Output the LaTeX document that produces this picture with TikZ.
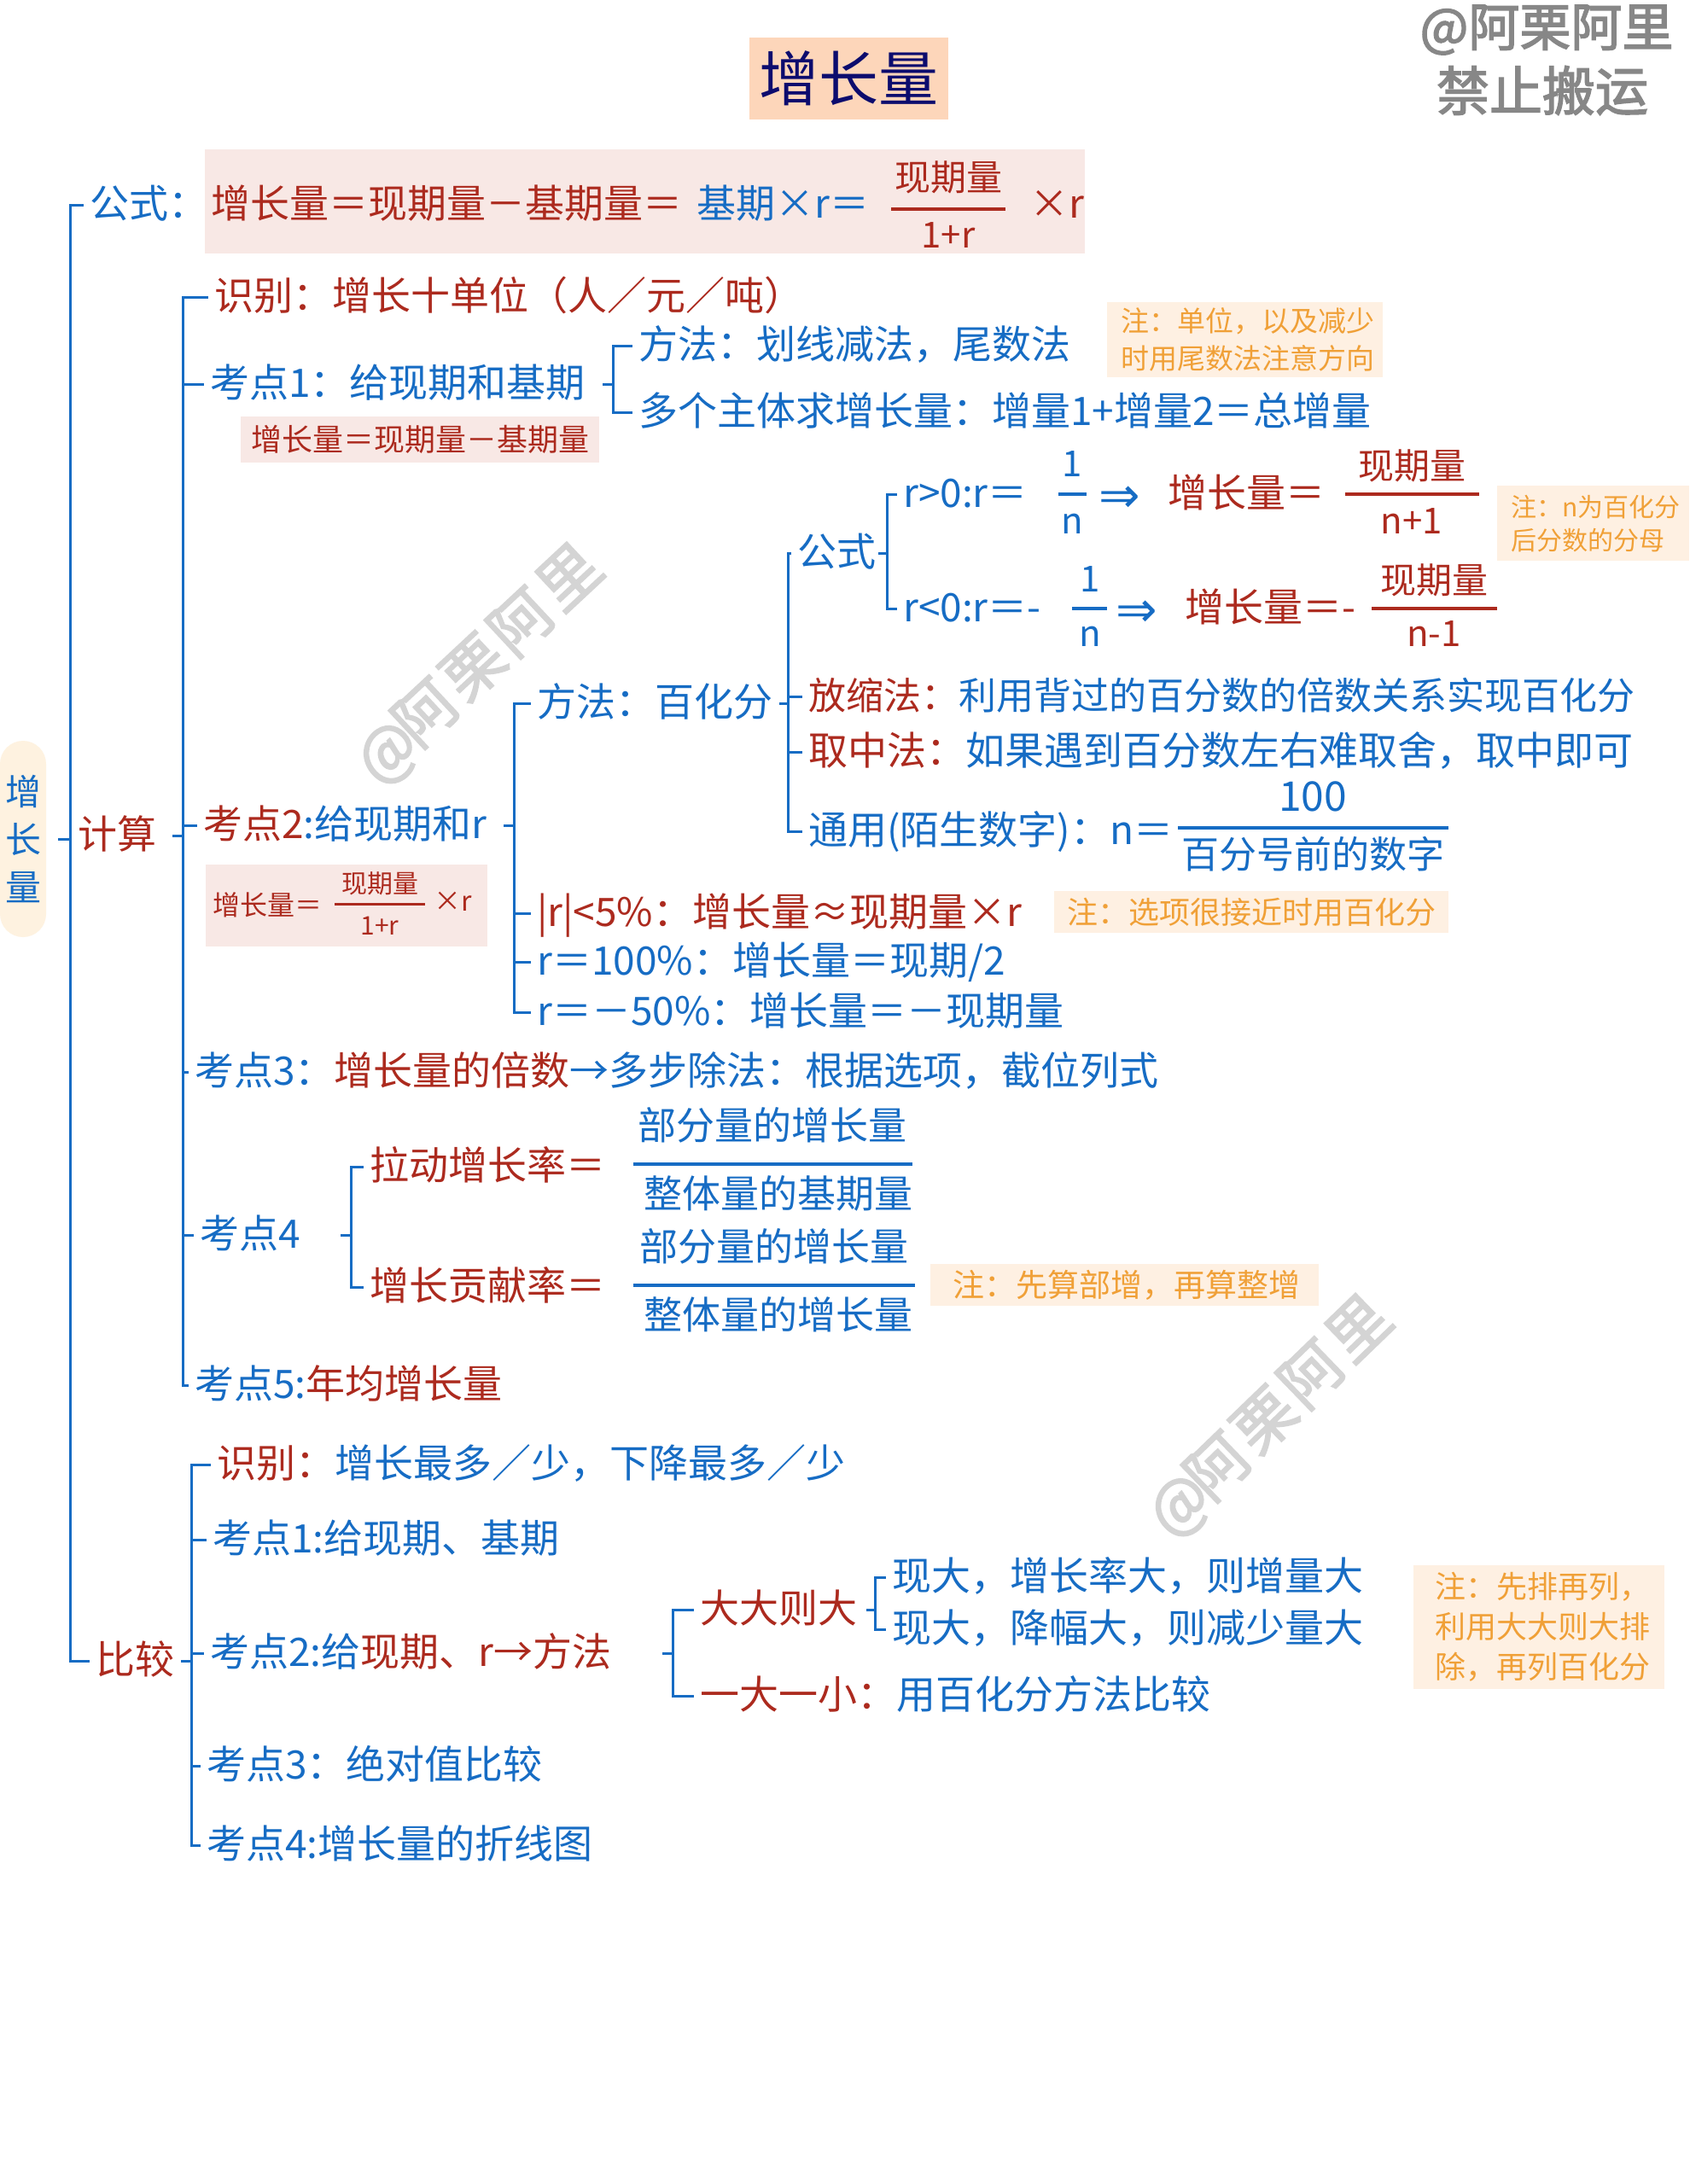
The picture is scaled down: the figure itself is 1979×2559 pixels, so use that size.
\documentclass[tikz,border=0pt]{standalone}
\usepackage{fontspec}
\setmainfont{Noto Sans CJK SC}
\newfontfamily\symfont{DejaVu Sans}
\newfontfamily\wmfont{Noto Sans CJK SC}[FakeBold=2.5]
\definecolor{cb}{RGB}{22,108,196}
\definecolor{cr}{RGB}{172,42,30}
\definecolor{co}{RGB}{240,160,55}
\definecolor{cpink}{RGB}{248,232,229}
\definecolor{cnote}{RGB}{254,240,226}
\definecolor{ctbg}{RGB}{253,214,186}
\definecolor{croot}{RGB}{254,242,224}
\definecolor{cnavy}{RGB}{12,12,110}
\definecolor{cwm}{RGB}{135,135,135}
\definecolor{cwmb}{RGB}{212,212,212}
\newcommand{\fsz}[1]{\fontsize{#1}{#1}\selectfont}
\tikzset{
  txt/.style={anchor=west, inner sep=1pt, font=\fsz{46}, text=cb, text height=37pt, text depth=7pt},
  rtxt/.style={txt, text=cr},
  ctr/.style={anchor=center, inner sep=1pt, font=\fsz{42}, text height=33pt, text depth=6pt},
  tree/.style={draw=cb, line width=3pt, shorten >=6pt},
  fbar/.style={line width=4pt},
  notebox/.style={fill=cnote, text=co, anchor=north west, inner sep=0pt, align=left},
  pinkbox/.style={fill=cpink, anchor=north west, inner sep=0pt},
  wm/.style={text=cwmb, font=\wmfont\fsz{72}, inner sep=0pt, text height=30pt, text depth=0pt},
  arr/.style={txt, font=\symfont\fsz{58}, text height=40pt, text depth=4pt},
}
\begin{document}
\begin{tikzpicture}[x=1pt,y=-1pt]
\useasboundingbox (0,0) rectangle (1979,2559);
\fill[white] (0,0) rectangle (1979,2559);
% diagonal watermarks, one glyph each
\node[wm, rotate=43] (wa1) at (460,888) {@};
\node[wm, rotate=43] (wa2) at (506,843) {阿};
\node[wm, rotate=43] (wa3) at (562,790) {栗};
\node[wm, rotate=43] (wa4) at (618,737) {阿};
\node[wm, rotate=43] (wa5) at (674,684) {里};
\node[wm, rotate=44] (wb1) at (1388,1770) {@};
\node[wm, rotate=44] (wb2) at (1434,1726) {阿};
\node[wm, rotate=44] (wb3) at (1489,1672) {栗};
\node[wm, rotate=44] (wb4) at (1544,1618) {阿};
\node[wm, rotate=44] (wb5) at (1599,1564) {里};
\node[text=cwm, font=\wmfont\fsz{60}, inner sep=0pt] (wm3) at (1812,35) {@阿栗阿里};
\node[text=cwm, font=\wmfont\fsz{62}, inner sep=0pt] (wm4) at (1807,106) {禁止搬运};
% title
\node[fill=ctbg, text=cnavy, font=\fsz{70}, minimum width=233pt, minimum height=96pt, inner sep=0pt] (title) at (994,92) {增长量};
% root
\node[fill=croot, rounded corners=27pt, minimum width=54pt, minimum height=230pt, inner sep=0pt, text=cb, font=\fontsize{42}{56}\selectfont, align=center] (root) at (27,983) {增\\长\\量};
\coordinate (xT) at (82,0);
% ---------- 公式 ----------
\node[txt] (gs) at (104,240) {公式：};
\node[pinkbox, minimum width=1031pt, minimum height=122pt] (fbox0) at (240,175) {};
\node[rtxt] (f0a) at (246,240) {增长量＝现期量－基期量＝};
\node[txt] (f0b) at (815,240) {基期×r＝};
\node[ctr, text=cr] (f0n) at (1111,210) {现期量};
\draw[fbar, cr] (1044,245) -- (1178,245);
\node[ctr, text=cr] (f0d) at (1111,277) {1+r};
\node[rtxt] (f0c) at (1205,240) {×r};
% ---------- 计算 ----------
\node[rtxt] (js) at (90,979) {计算};
\coordinate (xJ) at (214,0);
\node[rtxt] (sb1) at (250,348) {识别：增长十单位（人／元／吨）};
\node[txt] (kd1) at (245,450) {考点1：给现期和基期};
\node[pinkbox, minimum width=420pt, minimum height=54pt, text=cr, font=\fsz{36}] (b1) at (282,488) {增长量＝现期量－基期量};
\coordinate (x1) at (718,0);
\node[txt] (ff1) at (747,405) {方法：划线减法，尾数法};
\node[txt] (ff2) at (747,483) {多个主体求增长量：增量1+增量2＝总增量};
\node[notebox, minimum width=323pt, minimum height=88pt, font=\fontsize{33}{44}\selectfont] (n1) at (1297,354) {\hspace*{6pt}注：单位，以及减少\\\hspace*{6pt}时用尾数法注意方向};
% 考点2
\node[txt] (kd2) at (237,967) {\color{cr}考点2\color{cb}:给现期和r};
\node[pinkbox, minimum width=330pt, minimum height=96pt] (b2) at (241,1013) {};
\node[rtxt, font=\fsz{32}, text height=26pt, text depth=5pt] (b2a) at (248,1062) {增长量＝};
\draw[fbar, cr, line width=3pt] (392,1059) -- (498,1059);
\node[ctr, text=cr, font=\fsz{30}, text height=24pt, text depth=4pt] (b2n) at (445,1036) {现期量};
\node[ctr, text=cr, font=\fsz{30}, text height=24pt, text depth=4pt] (b2d) at (445,1085) {1+r};
\node[rtxt, font=\fsz{32}, text height=26pt, text depth=5pt] (b2c) at (507,1057) {×r};
\coordinate (x2) at (602,0);
\node[txt] (ff) at (628,824) {方法：百化分};
\coordinate (x3) at (923,0);
\node[txt] (gs2) at (933,648) {公式};
\coordinate (x4) at (1039,0);
% r>0
\node[txt] (rp) at (1057,579) {r>0:r＝};
\draw[fbar, cb] (1240,579) -- (1273,579);
\node[ctr, text=cb] (rpn) at (1256,545) {1};
\node[ctr, text=cb] (rpd) at (1256,612) {n};
\node[arr] (rpa) at (1286,582) {⇒};
\node[rtxt] (rpb) at (1367,579) {增长量＝};
\draw[fbar, cr] (1576,579) -- (1733,579);
\node[ctr, text=cr] (rpfn) at (1654,548) {现期量};
\node[ctr, text=cr] (rpfd) at (1654,612) {n+1};
% r<0
\node[txt] (rm) at (1057,713) {r<0:r＝-};
\draw[fbar, cb] (1256,713) -- (1297,713);
\node[ctr, text=cb] (rmn) at (1277,680) {1};
\node[ctr, text=cb] (rmd) at (1277,744) {n};
\node[arr] (rma) at (1306,716) {⇒};
\node[rtxt] (rmb) at (1387,713) {增长量＝-};
\draw[fbar, cr] (1607,713) -- (1754,713);
\node[ctr, text=cr] (rmfn) at (1680,682) {现期量};
\node[ctr, text=cr] (rmfd) at (1680,744) {n-1};
\node[notebox, minimum width=225pt, minimum height=88pt, font=\fontsize{30}{39}\selectfont] (n2) at (1754,569) {\hspace*{6pt}注：n为百化分\\\hspace*{6pt}后分数的分母};
% 放缩 取中 通用
\node[txt, font=\fsz{44}] (fs) at (946,816) {\color{cr}放缩法：\color{cb}利用背过的百分数的倍数关系实现百化分};
\node[txt] (qz) at (946,881) {\color{cr}取中法：\color{cb}如果遇到百分数左右难取舍，取中即可};
\node[txt] (ty) at (946,974) {通用(陌生数字)：n＝};
\draw[fbar, cb] (1380,970) -- (1697,970);
\node[ctr, text=cb, font=\fsz{48}] (tyn) at (1538,937) {100};
\node[ctr, text=cb, font=\fsz{44}] (tyd) at (1538,1004) {百分号前的数字};
% other children of 考点2
\node[rtxt] (r5) at (628,1070) {|r|<5\%：增长量≈现期量×r};
\node[notebox, minimum width=462pt, minimum height=49pt, font=\fsz{36}, align=center] (n3) at (1235,1044) {注：选项很接近时用百化分};
\node[txt] (r100) at (628,1127) {r＝100\%：增长量＝现期/2};
\node[txt] (r50) at (628,1186) {r＝－50\%：增长量＝－现期量};
% 考点3
\node[txt] (kd3) at (227,1256) {考点3：\color{cr}增长量的倍数\color{cb}→多步除法：根据选项，截位列式};
% 考点4
\node[txt] (kd4) at (233,1447) {考点4};
\coordinate (x5) at (411,0);
\node[rtxt] (ld) at (432,1367) {拉动增长率＝};
\draw[fbar, cb] (742,1364) -- (1069,1364);
\node[ctr, text=cb, font=\fsz{45}] (ldn) at (905,1322) {部分量的增长量};
\node[ctr, text=cb, font=\fsz{45}] (ldd) at (912,1402) {整体量的基期量};
\node[rtxt] (gx) at (432,1508) {增长贡献率＝};
\draw[fbar, cb] (742,1506) -- (1072,1506);
\node[ctr, text=cb, font=\fsz{45}] (gxn) at (907,1464) {部分量的增长量};
\node[ctr, text=cb, font=\fsz{45}] (gxd) at (912,1544) {整体量的增长量};
\node[notebox, minimum width=455pt, minimum height=49pt, font=\fsz{37}] (n4) at (1090,1481) {\hspace*{4pt}注：先算部增，再算整增};
% 考点5
\node[txt] (kd5) at (227,1623) {考点5:\color{cr}年均增长量};
% ---------- 比较 ----------
\node[rtxt] (bj) at (111,1946) {比较};
\coordinate (x6) at (224,0);
\node[txt] (bsb) at (253,1716) {\color{cr}识别：\color{cb}增长最多／少，下降最多／少};
\node[txt] (bk1) at (248,1804) {考点1:给现期、基期};
\node[txt] (bk2) at (245,1937) {考点2:给\color{cr}现期、r→方法};
\coordinate (x7) at (788,0);
\node[rtxt] (dd) at (819,1886) {大大则大};
\coordinate (x8) at (1025,0);
\node[txt] (dd1) at (1044,1848) {现大，增长率大，则增量大};
\node[txt] (dd2) at (1044,1909) {现大，降幅大，则减少量大};
\node[txt] (dx) at (819,1987) {\color{cr}一大一小：\color{cb}用百化分方法比较};
\node[notebox, minimum width=294pt, minimum height=145pt, font=\fontsize{36}{47}\selectfont] (n5) at (1656,1834) {\hspace*{8pt}注：先排再列，\\\hspace*{8pt}利用大大则大排\\\hspace*{8pt}除，再列百化分};
\node[txt] (bk3) at (241,2069) {考点3：绝对值比较};
\node[txt] (bk4) at (241,2162) {考点4:增长量的折线图};
% ---------- connectors ----------
\foreach \c in {gs,js,bj} \draw[tree] ([xshift=-14pt]xT |- root.east) -- (xT |- root.east) |- (\c.west);
\foreach \c in {sb1,kd1,kd2,kd3,kd4,kd5} \draw[tree] ([xshift=-12pt]xJ |- js.east) -- (xJ |- js.east) |- (\c.west);
\foreach \c in {ff1,ff2} \draw[tree] ([xshift=-12pt]x1 |- kd1.east) -- (x1 |- kd1.east) |- (\c.west);
\foreach \c in {ff,r5,r100,r50} \draw[tree] ([xshift=-12pt]x2 |- kd2.east) -- (x2 |- kd2.east) |- (\c.west);
\foreach \c in {gs2,fs,qz,ty} \draw[tree] ([xshift=-10pt]x3 |- ff.east) -- (x3 |- ff.east) |- (\c.west);
\foreach \c in {rp,rm} \draw[tree] ([xshift=-10pt]x4 |- gs2.east) -- (x4 |- gs2.east) |- (\c.west);
\foreach \c in {ld,gx} \draw[tree] ([xshift=-12pt]x5 |- kd4.east) -- (x5 |- kd4.east) |- (\c.west);
\foreach \c in {bsb,bk1,bk2,bk3,bk4} \draw[tree] ([xshift=-12pt]x6 |- bj.east) -- (x6 |- bj.east) |- (\c.west);
\foreach \c in {dd,dx} \draw[tree] ([xshift=-12pt]x7 |- bk2.east) -- (x7 |- bk2.east) |- (\c.west);
\foreach \c in {dd1,dd2} \draw[tree] ([xshift=-10pt]x8 |- dd.east) -- (x8 |- dd.east) |- (\c.west);
\end{tikzpicture}
\end{document}
